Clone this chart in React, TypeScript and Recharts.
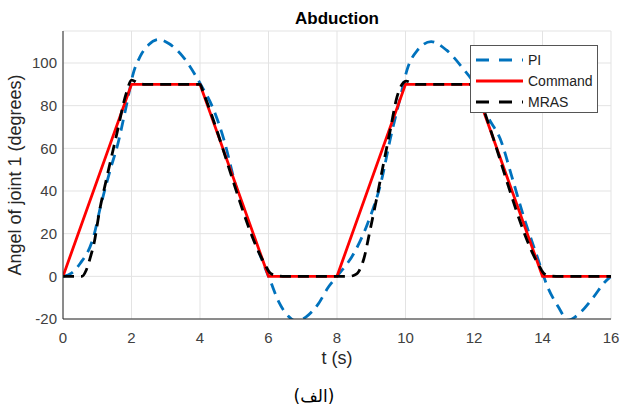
import { CartesianGrid, Line, LineChart, XAxis, YAxis } from 'recharts';

// time / value pairs
const commandT = [0, 2, 4, 6, 8, 10, 12, 14, 16];
const commandV = [0, 90, 90, 0, 0, 90, 90, 0, 0];

const piT = [
  0, 0.25, 0.5, 0.9, 1.1, 1.4, 1.6, 1.85, 2.05, 2.25, 2.5, 2.8, 3.1, 3.5, 4.0, 4.4, 4.7, 5.05, 5.45, 5.85,
  6.05, 6.3, 6.6, 6.8, 7.1, 7.45, 7.75, 8.0, 8.5, 8.9, 9.3, 9.55, 9.85, 10.05, 10.35, 10.75, 11.2, 11.7, 12.0,
  12.4, 12.8, 13.1, 13.45, 13.85, 14.15, 14.45, 14.75, 15.1, 15.5, 15.8, 16,
];
const piV = [
  0, 1.5, 6, 19, 33, 51, 62, 80, 95, 103, 108.5, 111, 109, 103, 90.5, 78, 64, 42, 23, 6,
  -2, -12, -19, -21, -19, -13, -5, 0, 11, 25, 45, 64, 84, 97, 106, 110, 106, 97, 90.5,
  75, 63, 47, 28, 9, -5, -14, -20.5, -17, -9.5, -3, 0,
];

const mrasT = [
  0, 0.55, 0.68, 0.8, 0.9, 1.07, 1.26, 1.56, 1.85, 2.0, 2.2, 2.4, 4.0, 4.1, 5.9, 6.05, 6.25, 6.5,
  8.35, 8.5, 8.6, 8.78, 8.97, 9.17, 9.36, 9.56, 9.75, 9.9, 10.02, 10.3, 12.0, 12.1, 13.9, 14.05, 14.25, 14.5, 16,
];
const mrasV = [
  0, 0, 3, 9, 15, 31, 45, 66, 86, 92, 90.5, 90, 90, 86, 5.5, 1.5, 0.3, 0,
  0, 0.5, 1.5, 8, 22, 37.5, 53, 69, 84, 90, 91.5, 90, 90, 86, 5, 1.2, 0.2, 0, 0,
];

const xTicks = [0, 2, 4, 6, 8, 10, 12, 14, 16];
const yTicks = [-20, 0, 20, 40, 60, 80, 100];

const toRows = (ts: number[], vs: number[]) => ts.map((t, i) => ({ t, v: vs[i] }));

const commandData = toRows(commandT, commandV);
const piData = toRows(piT, piV);
const mrasData = toRows(mrasT, mrasV);

const font = '"Liberation Sans", Arial, sans-serif';
const tickStyle = { fontSize: 15, fill: '#404040', fontFamily: font };

const legendItems = [
  { name: 'PI', color: '#0072BD', dash: '13 10' },
  { name: 'Command', color: '#FF0000', dash: undefined },
  { name: 'MRAS', color: '#000000', dash: '13 10' },
];

const LegendBox = () => (
  <div
    style={{
      position: 'absolute',
      left: 470,
      top: 45,
      width: 128,
      height: 68,
      border: '1px solid #555',
      background: '#fff',
      boxSizing: 'border-box',
      paddingTop: 3,
      fontFamily: font,
      fontSize: 14,
      color: '#222',
    }}
  >
    {legendItems.map((item) => (
      <div key={item.name} style={{ display: 'flex', alignItems: 'center', height: 21 }}>
        <svg width={53} height={10} style={{ marginLeft: 4 }}>
          <line x1={1} y1={5} x2={48} y2={5} stroke={item.color} strokeWidth={3} strokeDasharray={item.dash} />
        </svg>
        <span>{item.name}</span>
      </div>
    ))}
  </div>
);

export default function App() {
  return (
    <div style={{ position: 'absolute', left: 0, top: 0, width: 622, height: 410, background: '#fff', fontFamily: font }}>
      <div
        style={{
          position: 'absolute',
          left: 63,
          width: 548,
          top: 9,
          textAlign: 'center',
          fontWeight: 'bold',
          fontSize: 17,
          color: '#000',
        }}
      >
        Abduction
      </div>
      <div
        style={{
          position: 'absolute',
          left: 15,
          top: 175,
          transform: 'translate(-50%, -50%) rotate(-90deg)',
          whiteSpace: 'nowrap',
          fontSize: 18,
          color: '#262626',
        }}
      >
        Angel of joint 1 (degrees)
      </div>
      <div
        style={{
          position: 'absolute',
          left: 63,
          width: 548,
          top: 348,
          textAlign: 'center',
          fontSize: 18,
          color: '#262626',
        }}
      >
        t (s)
      </div>
      <div
        style={{
          position: 'absolute',
          left: 264,
          width: 100,
          top: 386,
          textAlign: 'center',
          fontSize: 17,
          fontFamily: '"DejaVu Sans", sans-serif',
          color: '#000',
        }}
      >
        (الف)
      </div>
      <LineChart width={622} height={410} margin={{ top: 31, right: 11, bottom: 51, left: 0 }}>
        <CartesianGrid stroke="#e3e3e3" strokeWidth={1} />
        <XAxis
          type="number"
          dataKey="t"
          domain={[0, 16]}
          ticks={xTicks}
          allowDataOverflow
          height={40}
          axisLine={{ stroke: '#262626' }}
          tickLine={false}
          tickSize={6}
          tickMargin={7}
          tick={tickStyle}
        />
        <YAxis
          type="number"
          domain={[-20, 115]}
          ticks={yTicks}
          allowDataOverflow
          width={63}
          axisLine={{ stroke: '#262626' }}
          tickLine={false}
          tickSize={6}
          tickMargin={0}
          tick={tickStyle}
        />
        <Line
          data={piData}
          dataKey="v"
          name="PI"
          type="monotone"
          stroke="#0072BD"
          strokeWidth={2.8}
          strokeDasharray="11 7"
          dot={false}
          isAnimationActive={false}
        />
        <Line
          data={commandData}
          dataKey="v"
          name="Command"
          type="linear"
          stroke="#FF0000"
          strokeWidth={2.8}
          dot={false}
          isAnimationActive={false}
        />
        <Line
          data={mrasData}
          dataKey="v"
          name="MRAS"
          type="monotone"
          stroke="#000000"
          strokeWidth={2.8}
          strokeDasharray="11 7"
          dot={false}
          isAnimationActive={false}
        />
      </LineChart>
      <LegendBox />
    </div>
  );
}
